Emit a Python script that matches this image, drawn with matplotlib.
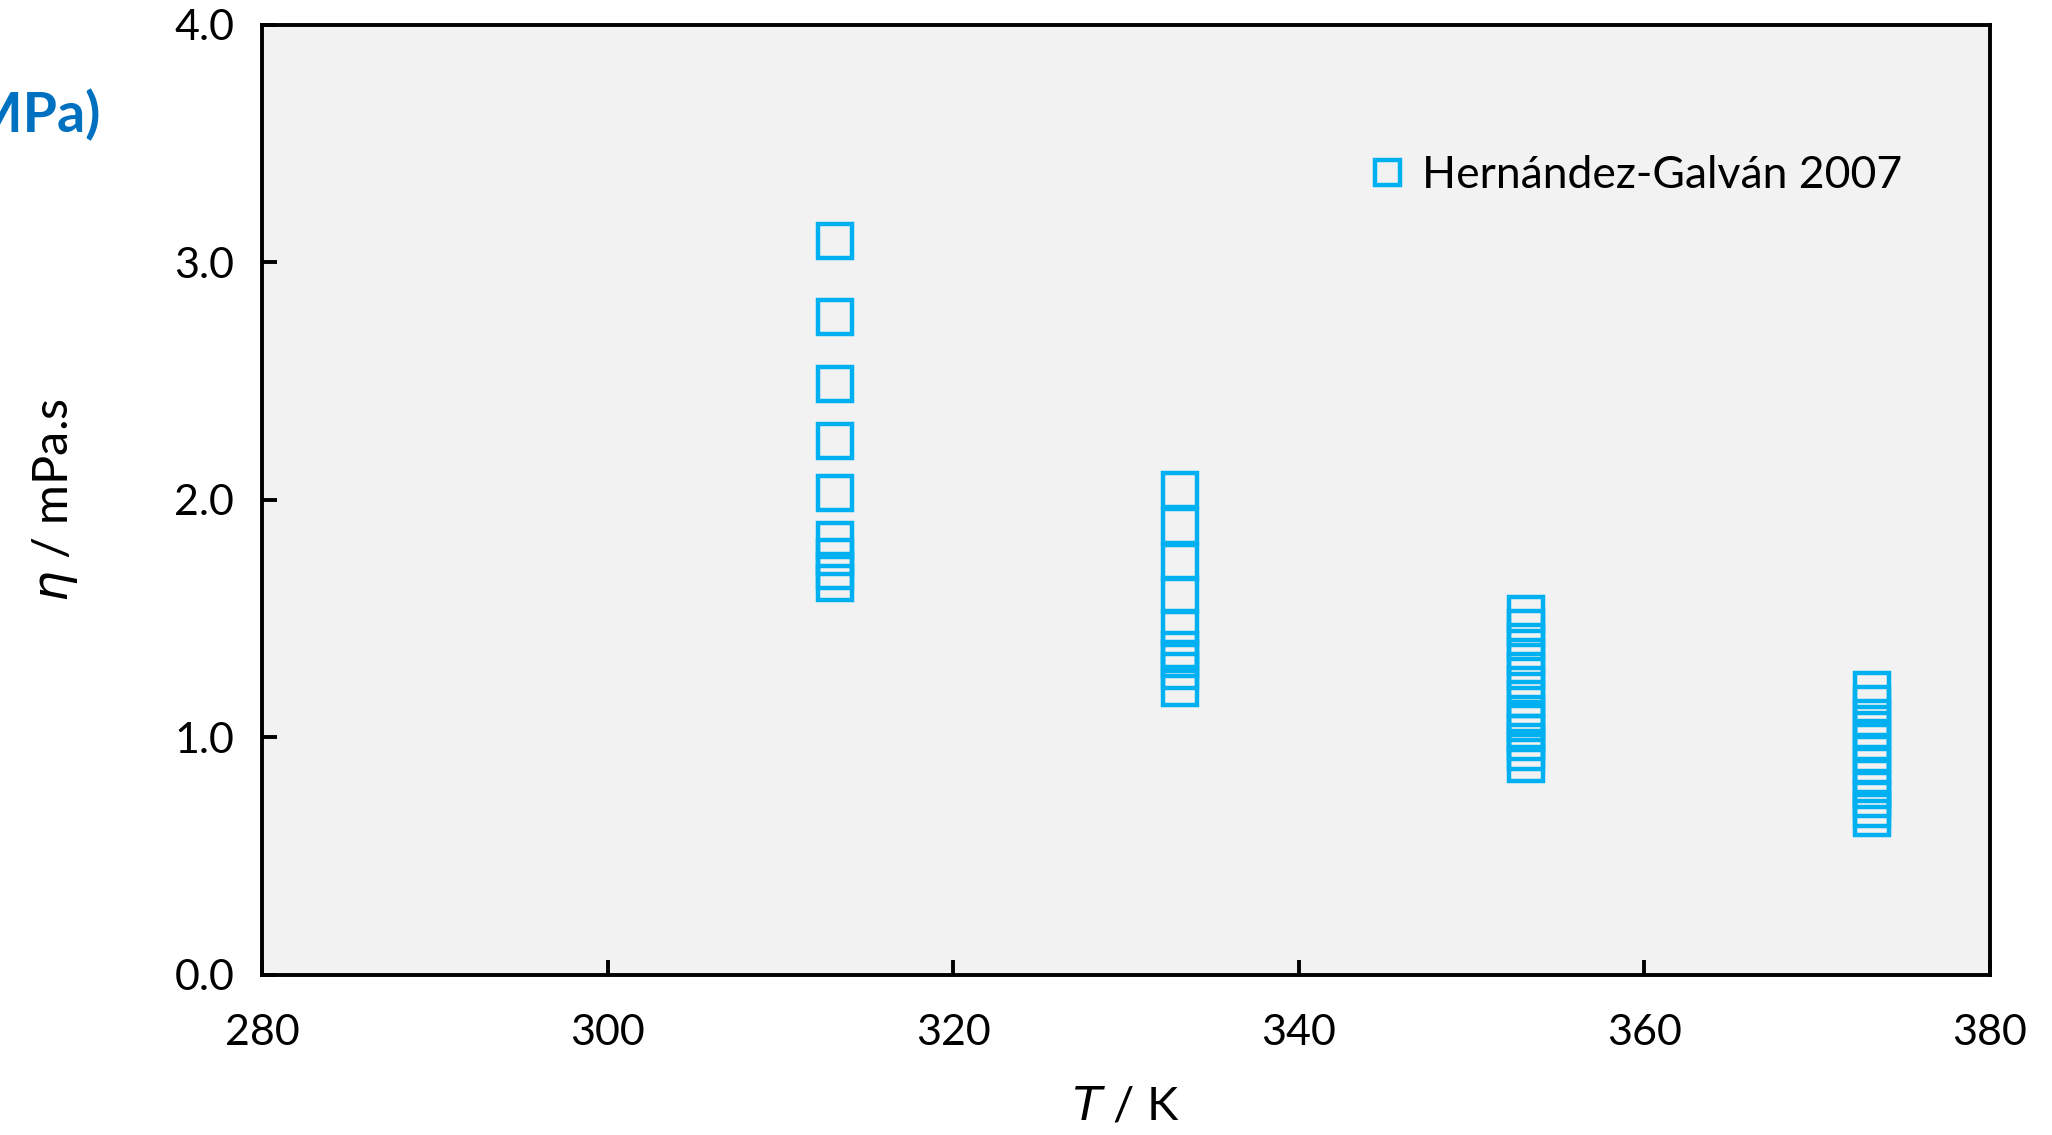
import matplotlib
matplotlib.use('Agg')
import matplotlib.pyplot as plt

# Hernández-Galván 2007 data
T_313 = [313.15] * 9
eta_313 = [3.09, 2.77, 2.49, 2.25, 2.03, 1.83, 1.76, 1.70, 1.65]

T_333 = [333.15] * 9
eta_333 = [2.04, 1.89, 1.74, 1.60, 1.46, 1.37, 1.33, 1.28, 1.21]

T_353 = [353.15] * 13
eta_353 = [1.52, 1.46, 1.40, 1.34, 1.28, 1.22, 1.16, 1.10, 1.06, 1.02, 0.98, 0.94, 0.89]

T_373 = [373.15] * 12
eta_373 = [1.20, 1.14, 1.08, 1.03, 0.98, 0.93, 0.88, 0.83, 0.78, 0.74, 0.70, 0.66]

T_all = T_313 + T_333 + T_353 + T_373
eta_all = eta_313 + eta_333 + eta_353 + eta_373

plt.rcParams['font.family'] = ['Lato', 'DejaVu Sans']
plt.rcParams['mathtext.fontset'] = 'dejavusans'

fig = plt.figure(figsize=(10.26, 5.675), dpi=200)
ax = fig.add_axes([0.1277, 0.141, 0.9698 - 0.1277, 0.978 - 0.141])
ax.set_facecolor('#F2F2F2')

ax.plot(T_all, eta_all, linestyle='none', marker='s', markersize=12.5,
        markerfacecolor='none', markeredgecolor='#00B0F0', markeredgewidth=1.6,
        label='Hernández-Galván 2007')

ax.set_xlim(280, 380)
ax.set_ylim(0, 4.0)
ax.set_xticks([280, 300, 320, 340, 360, 380])
ax.set_yticks([0, 1, 2, 3, 4])
ax.set_yticklabels(['0.0', '1.0', '2.0', '3.0', '4.0'])

for s in ax.spines.values():
    s.set_linewidth(1.4)
    s.set_color('black')
ax.tick_params(direction='in', length=5.4, width=1.4, labelsize=15.5, pad=10)
ax.tick_params(axis='x', pad=14)

ax.set_xlabel(r'$\it{T}$ / K', fontsize=17, labelpad=12)
ax.set_ylabel(r'$\it{\eta}$ / mPa.s', fontsize=17.5, labelpad=34)

ax.legend(loc='center left', bbox_to_anchor=(0.638, 0.842), frameon=False,
          fontsize=16, handlelength=1.0, handletextpad=0.3, markerscale=0.72,
          borderaxespad=0, borderpad=0)

fig.text(100 / 2052, 1 - 115 / 1135, 'P (MPa)', fontsize=20, fontweight='bold',
         color='#0070C0', ha='right', va='center')

fig.savefig('out.png', dpi=200)
